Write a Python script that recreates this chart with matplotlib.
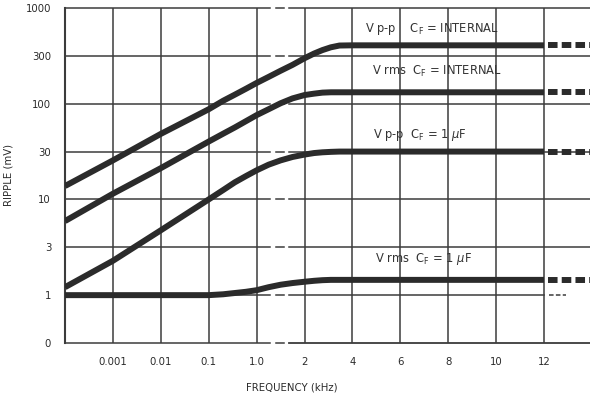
import numpy as np
import matplotlib
matplotlib.use('Agg')
import matplotlib.pyplot as plt

# --- axis breakpoints (log decades to 1 kHz, then linear 2..12 kHz) ---
X_LIN = [1, 2, 4, 6, 8, 10, 12, 14]
X_POS = [4, 5, 6, 7, 8, 9, 10, 11]
Y_VALS = [1, 3, 10, 30, 100, 300, 1000]
Y_POS = [1, 2, 3, 4, 5, 6, 7]

# --- data (kHz, mV) ---
freq_khz = [0.0001, 0.001, 0.01, 0.1, 0.2, 0.35, 0.6, 1.0, 1.25, 1.5, 1.75, 2.0,
            2.4, 2.75, 3.1, 3.46, 4, 6, 8, 10, 12]
vpp_internal = [13.6, 24.5, 46.8, 87, 107, 123, 141, 161, 185, 213, 244, 284,
                318, 347, 372, 389, 391, 391, 391, 391, 391]
vrms_internal = [5.8, 11.4, 20.5, 38.6, 47, 55, 64.5, 75, 87, 101, 113, 122,
                 126, 129, 130, 130, 130, 130, 130, 130, 130]
vpp_1uf = [1.2, 2.2, 4.6, 10, 12.4, 14.8, 17.1, 19.5, 22.2, 24.5, 26.5, 28.0,
           29.0, 29.5, 29.8, 30, 30, 30, 30, 30, 30]
vrms_1uf = [1.0, 1.0, 1.0, 1.0, 1.02, 1.05, 1.08, 1.12, 1.20, 1.27, 1.32, 1.36,
            1.39, 1.41, 1.42, 1.42, 1.42, 1.42, 1.42, 1.42, 1.42]
ext_khz = [12.15, 13.92]

x_ticks = [0.001, 0.01, 0.1, 1, 2, 4, 6, 8, 10, 12]
x_labels = ["0.001", "0.01", "0.1", "1.0", "2", "4", "6", "8", "10", "12"]
y_ticks = [0, 1, 3, 10, 30, 100, 300, 1000]
y_labels = ["0", "1", "3", "10", "30", "100", "300", "1000"]

labels = [r"V p-p    C$_\mathregular{F}$ = INTERNAL",
          r"V rms  C$_\mathregular{F}$ = INTERNAL",
          r"V p-p  C$_\mathregular{F}$ = 1 $\mu$F",
          r"V rms  C$_\mathregular{F}$ = 1 $\mu$F"]
label_xy = [(0.571, 0.937), (0.585, 0.812), (0.587, 0.621), (0.590, 0.251)]


def fx(f):
    f = np.asarray(f, dtype=float)
    lg = np.log10(np.clip(f, 1e-9, None)) + 4
    return np.where(f < 1, lg, np.interp(f, X_LIN, X_POS))


def fx_inv(p):
    p = np.asarray(p, dtype=float)
    return np.where(p < 4, 10 ** (np.clip(p, -10, 4) - 4), np.interp(p, X_POS, X_LIN))


def fy(v):
    v = np.asarray(v, dtype=float)
    lg = np.interp(np.log10(np.clip(v, 1e-9, None)), np.log10(Y_VALS), Y_POS)
    return np.where(v < 1, v, lg)


def fy_inv(p):
    p = np.asarray(p, dtype=float)
    return np.where(p < 1, p, 10 ** np.interp(p, Y_POS, np.log10(Y_VALS)))


ink = '#2b2b2b'
grid_c = '#3c3c3c'

fig = plt.figure(figsize=(5.9, 4.0), dpi=100)
ax = fig.add_axes([65 / 590, 1 - 343 / 400, 525 / 590, 335 / 400])
ax.set_xscale('function', functions=(fx, fx_inv))
ax.set_yscale('function', functions=(fy, fy_inv))
ax.set_xlim(0.0001, 13.92)
ax.set_ylim(0, 1000)

# grid: horizontal lines have a break just after 1 kHz
for v in y_ticks:
    ax.plot([0.0001, 1.28], [v, v], color=grid_c, lw=1.1, clip_on=False, zorder=1)
    ax.plot([1.40, 1.57], [v, v], color=grid_c, lw=1.1, clip_on=False, zorder=1)
    if v == 1:
        ax.plot([1.68, 12], [v, v], color=grid_c, lw=1.1, zorder=1)
        ax.plot([12.2, 12.9], [v, v], color=grid_c, lw=1.1, ls=(0, (3, 1.5)), zorder=1)
    else:
        ax.plot([1.68, 13.92], [v, v], color=grid_c, lw=1.3 if v == 0 else 1.1,
                clip_on=False, zorder=1)
ax.vlines(x_ticks, 0, 1000, color=grid_c, lw=1.1, zorder=1)

for vals in [vpp_internal, vrms_internal, vpp_1uf, vrms_1uf]:
    ax.plot(freq_khz, vals, color=ink, lw=4.3, solid_capstyle='butt',
            solid_joinstyle='round', zorder=3)
    ax.plot(ext_khz, [vals[-1]] * 2, color=ink, lw=4.3, ls=(0, (1.6, 0.7)),
            dash_capstyle='butt', zorder=3)

for txt, (tx, ty) in zip(labels, label_xy):
    ax.text(tx, ty, txt, transform=ax.transAxes, fontsize=8.3, color='#333333',
            ha='left', va='center')

ax.set_xticks(x_ticks)
ax.set_xticklabels(x_labels)
ax.set_yticks(y_ticks)
ax.set_yticklabels(y_labels)
ax.minorticks_off()
ax.tick_params(axis='both', length=0, labelsize=7.3, labelcolor='#2a2a2a')
ax.tick_params(axis='x', pad=10)
ax.tick_params(axis='y', pad=10)

for s in ['top', 'right', 'bottom']:
    ax.spines[s].set_visible(False)
ax.spines['left'].set_linewidth(1.5)
ax.spines['left'].set_color(grid_c)

fig.text(292 / 590, 1 - 388 / 400, "FREQUENCY (kHz)", ha='center', va='center',
         fontsize=7.3, color='#2a2a2a')
fig.text(9 / 590, 1 - 175 / 400, "RIPPLE (mV)", ha='center', va='center',
         rotation=90, fontsize=7.3, color='#2a2a2a')

fig.savefig('out.png', dpi=100)
